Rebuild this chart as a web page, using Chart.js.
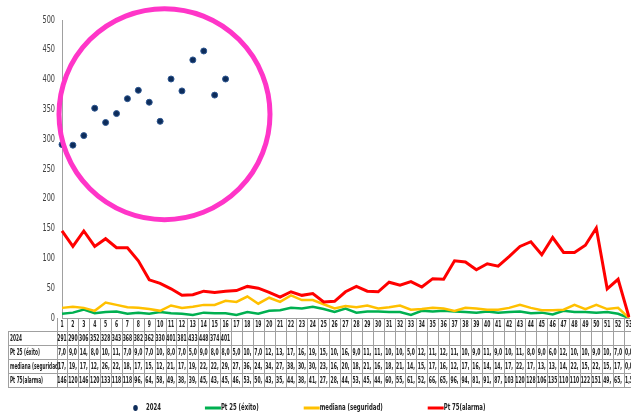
<!DOCTYPE html>
<html>
<head>
<meta charset="utf-8">
<script src="https://cdn.jsdelivr.net/npm/chart.js@4.4.1/dist/chart.umd.min.js"></script>
<style>
  html, body { margin: 0; padding: 0; background: #fff; overflow: hidden; }
  canvas { display: block; }
</style>
</head>
<body>
<canvas id="grafico" width="634" height="417"></canvas>
<script>
// semanas epidemiologicas
const semanas = ['1','2','3','4','5','6','7','8','9','10','11','12','13','14','15','16','17','18','19','20',
  '21','22','23','24','25','26','27','28','29','30','31','32','33','34','35','36','37','38','39','40',
  '41','42','43','44','45','46','47','48','49','50','51','52','53'];

// casos 2024 (solo hasta la semana 16)
const casos2024 = [291, 290, 306, 352, 328, 343, 368, 382, 362, 330, 401, 381, 433, 448, 374, 401];

// canal endemico
const pt25 = [7, 9, 14, 8, 10, 11, 7, 9, 7, 10, 8, 7, 5, 9, 8, 8, 5, 10, 7, 12,
  13, 17, 16, 19, 15, 10, 16, 9, 11, 11, 10, 10, 5, 12, 11, 12, 11, 10, 9, 11,
  9, 10, 11, 8, 9, 6, 12, 10, 10, 9, 10, 7, 0];
const mediana = [17, 19, 17, 12, 26, 22, 18, 17, 15, 12, 21, 17, 19, 22, 22, 29, 27, 36, 24, 34,
  27, 38, 30, 30, 23, 16, 20, 18, 21, 16, 18, 21, 14, 15, 17, 16, 12, 17, 16, 14,
  14, 17, 22, 17, 13, 13, 14, 22, 15, 22, 15, 17, 0];
const pt75 = [146, 120, 146, 120, 133, 118, 118, 96, 64, 58, 49, 38, 39, 45, 43, 45, 46, 53, 50, 43,
  35, 44, 38, 41, 27, 28, 44, 53, 45, 44, 60, 55, 61, 52, 66, 65, 96, 94, 81, 91,
  87, 103, 120, 128, 106, 135, 110, 110, 122, 151, 49, 65, 1.5];

const ticksY = [0, 50, 100, 150, 200, 250, 300, 350, 400, 450, 500];

const fuente = '"Liberation Sans Narrow", "DejaVu Sans Condensed", "Liberation Sans", sans-serif';

const filas = [
  { nombre: '2024', valores: casos2024, entero: true },
  { nombre: 'Pt 25 (éxito)', valores: pt25 },
  { nombre: 'mediana (seguridad)', valores: mediana },
  { nombre: 'Pt 75(alarma)', valores: pt75 }
];

function textoCelda(v, entero) {
  if (v === undefined || v === null) return '';
  if (entero) return String(v);
  // excel corta el numero cuando no cabe en la celda
  return v.toFixed(1).replace('.', ',').slice(0, 3);
}

// texto angosto (la fuente original es condensada)
function escribir(ctx, t, px, py, escala, align) {
  ctx.save();
  ctx.translate(px, py);
  ctx.scale(escala, 1);
  ctx.textAlign = align;
  ctx.fillText(t, 0, 0);
  ctx.restore();
}

const tablaYLeyenda = {
  id: 'tablaYLeyenda',
  afterDraw(chart) {
    const ctx = chart.ctx;
    const x = chart.scales.x;
    const y = chart.scales.y;
    const paso = x.getPixelForValue(1) - x.getPixelForValue(0);
    const izq = x.getPixelForValue(0) - paso / 2;
    const der = x.getPixelForValue(semanas.length - 1) + paso / 2;
    const arriba = chart.chartArea.bottom;
    const finEnc = arriba + 13;
    const altoFila = 14;
    const abajo = finEnc + altoFila * filas.length;
    const bordeIzq = 8;

    ctx.save();
    ctx.textBaseline = 'middle';

    // etiquetas del eje y
    ctx.fillStyle = '#404040';
    ctx.font = '10px ' + fuente;
    let esc = 12.5 / ctx.measureText('500').width;
    ticksY.forEach(v => {
      escribir(ctx, String(v), chart.chartArea.left - 7, y.getPixelForValue(v), esc, 'right');
    });

    ctx.strokeStyle = '#a0a0a0';
    ctx.lineWidth = 1;
    ctx.beginPath();
    // lineas verticales de las semanas
    for (let i = 0; i <= semanas.length; i++) {
      const px = Math.round(izq + paso * i) + 0.5;
      ctx.moveTo(px, arriba);
      ctx.lineTo(px, abajo);
    }
    ctx.moveTo(bordeIzq + 0.5, finEnc);
    ctx.lineTo(bordeIzq + 0.5, abajo);
    for (let r = 0; r <= filas.length; r++) {
      const py = Math.round(finEnc + altoFila * r) + 0.5;
      ctx.moveTo(bordeIzq, py);
      ctx.lineTo(der, py);
    }
    ctx.stroke();

    ctx.fillStyle = '#222';
    ctx.font = 'bold 8px ' + fuente;
    esc = 9.4 / ctx.measureText('000').width;
    semanas.forEach((s, i) => {
      escribir(ctx, s, x.getPixelForValue(i), arriba + 7, esc, 'center');
    });
    const escNombre = 50 / ctx.measureText('mediana (seguridad)').width;
    filas.forEach((f, r) => {
      const cy = finEnc + altoFila * r + altoFila / 2 + 0.5;
      escribir(ctx, f.nombre, bordeIzq + 2, cy, escNombre, 'left');
      semanas.forEach((s, i) => {
        escribir(ctx, textoCelda(f.valores[i], f.entero), x.getPixelForValue(i), cy, esc, 'center');
      });
    });

    // leyenda
    const items = [
      { texto: '2024', tipo: 'punto', color: '#0d2c5a' },
      { texto: 'Pt 25 (éxito)', tipo: 'linea', color: '#00b050' },
      { texto: 'mediana (seguridad)', tipo: 'linea', color: '#ffc000' },
      { texto: 'Pt 75(alarma)', tipo: 'linea', color: '#ff0000' }
    ];
    ctx.font = 'bold 9px ' + fuente;
    const escLey = 63 / ctx.measureText('mediana (seguridad)').width;
    const anchos = items.map(it => (it.tipo === 'punto' ? 12 : 16) + ctx.measureText(it.texto).width * escLey);
    const hueco = 45;
    let lx = 133;
    const ly = 408;
    items.forEach((it, k) => {
      if (it.tipo === 'punto') {
        ctx.fillStyle = it.color;
        ctx.beginPath();
        ctx.ellipse(lx + 2.5, ly, 2.3, 3, 0, 0, Math.PI * 2);
        ctx.fill();
        ctx.fillStyle = '#222';
        escribir(ctx, it.texto, lx + 13, ly, escLey, 'left');
      } else {
        ctx.strokeStyle = it.color;
        ctx.lineWidth = 3;
        ctx.beginPath();
        ctx.moveTo(lx, ly);
        ctx.lineTo(lx + 16, ly);
        ctx.stroke();
        ctx.fillStyle = '#222';
        escribir(ctx, it.texto, lx + 16, ly, escLey, 'left');
      }
      lx += anchos[k] + hueco;
    });

    // circulo que marca los casos 2024
    const cx = x.getPixelForValue(9.4);
    const cy = y.getPixelForValue(342);
    const radio = y.getPixelForValue(165) - cy;
    ctx.strokeStyle = '#ff35c8';
    ctx.lineWidth = 5;
    ctx.beginPath();
    ctx.ellipse(cx, cy, radio, radio, 0, 0, Math.PI * 2);
    ctx.stroke();
    ctx.restore();
  }
};

const ctx = document.getElementById('grafico').getContext('2d');
const grafico = new Chart(ctx, {
  type: 'line',
  data: {
    labels: semanas,
    datasets: [
      {
        label: '2024',
        data: casos2024,
        showLine: false,
        pointStyle: 'circle',
        pointRadius: 3,
        pointBackgroundColor: '#0d2c5a',
        pointBorderColor: '#2d5690',
        pointBorderWidth: 1,
        order: 0
      },
      {
        label: 'Pt 25 (éxito)',
        data: pt25,
        borderColor: '#00b050',
        borderWidth: 2.5,
        pointRadius: 0,
        tension: 0,
        order: 3
      },
      {
        label: 'mediana (seguridad)',
        data: mediana,
        borderColor: '#ffc000',
        borderWidth: 2.5,
        pointRadius: 0,
        tension: 0,
        order: 2
      },
      {
        label: 'Pt 75(alarma)',
        data: pt75,
        borderColor: '#ff0000',
        borderWidth: 3,
        pointRadius: 0,
        tension: 0,
        order: 1
      }
    ]
  },
  options: {
    responsive: false,
    animation: false,
    devicePixelRatio: 1,
    layout: { padding: { top: 20, right: 1, left: 0, bottom: 0 } },
    plugins: {
      legend: { display: false },
      tooltip: { enabled: false }
    },
    scales: {
      x: {
        ticks: { display: false },
        grid: { display: false, drawTicks: false },
        border: { color: '#a0a0a0' },
        afterFit(s) { s.height = 99; }
      },
      y: {
        min: 0,
        max: 500,
        afterBuildTicks(s) { s.ticks = ticksY.map(v => ({ value: v })); },
        ticks: { display: false },
        grid: { display: false, drawTicks: false },
        border: { color: '#a0a0a0' },
        afterFit(s) { s.width = 62; }
      }
    }
  },
  plugins: [tablaYLeyenda]
});
</script>
</body>
</html>
